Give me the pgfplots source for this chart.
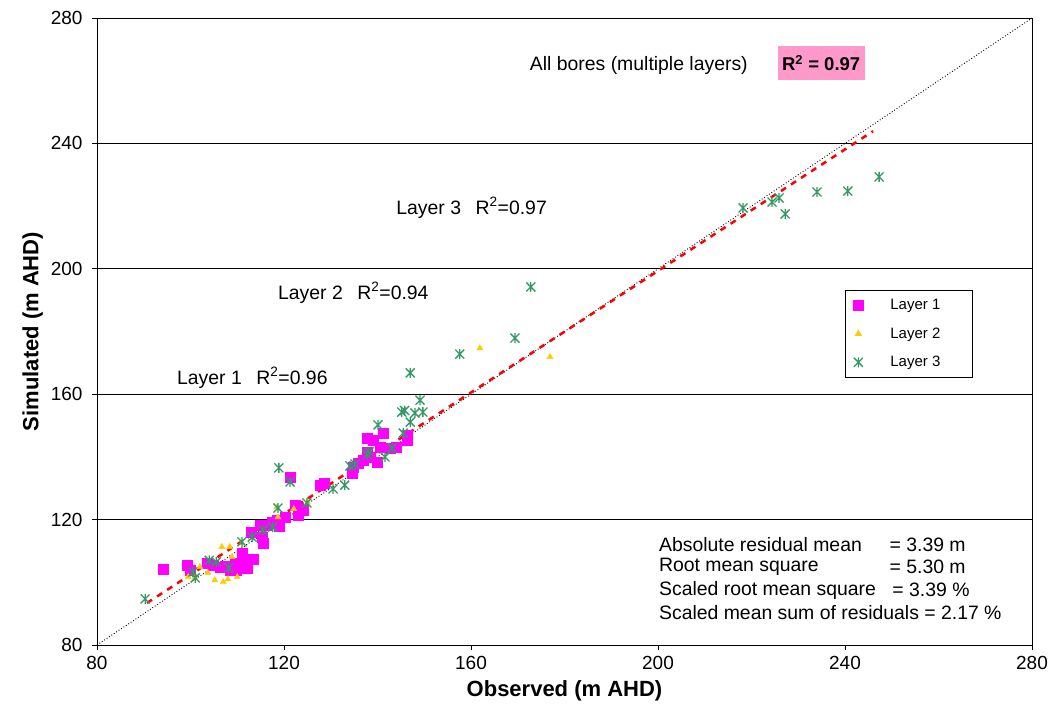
\documentclass[border=0pt]{standalone}
\usepackage{fontspec}
\setmainfont{Liberation Sans}
\usepackage{pgfplots}
\pgfplotsset{compat=1.18}
\definecolor{lay1}{HTML}{FF00FF}
\definecolor{lay2}{HTML}{FFCC00}
\definecolor{lay3}{HTML}{339966}
\definecolor{rbox}{HTML}{FF99CC}
\pgfdeclareplotmark{xstar}{%
  \pgfpathmoveto{\pgfqpoint{-\pgfplotmarksize}{-\pgfplotmarksize}}%
  \pgfpathlineto{\pgfqpoint{\pgfplotmarksize}{\pgfplotmarksize}}%
  \pgfpathmoveto{\pgfqpoint{-\pgfplotmarksize}{\pgfplotmarksize}}%
  \pgfpathlineto{\pgfqpoint{\pgfplotmarksize}{-\pgfplotmarksize}}%
  \pgfpathmoveto{\pgfqpoint{0pt}{1.1\pgfplotmarksize}}%
  \pgfpathlineto{\pgfqpoint{0pt}{-1.1\pgfplotmarksize}}%
  \pgfusepathqstroke}
\begin{document}
\begin{tikzpicture}
\useasboundingbox (-97pt,-79pt) rectangle (955pt,645pt);
\begin{axis}[
  at={(0,0)}, anchor=south west,
  scale only axis, width=935pt, height=627pt,
  xmin=80, xmax=280, ymin=80, ymax=280,
  xtick={80,120,...,280}, ytick={80,120,...,280},
  ymajorgrids, major grid style={black, line width=0.8pt},
  axis line style={line width=0.8pt},
  tick style={black, line width=0.8pt},
  tick align=outside, major tick length=5pt,
  xtick pos=bottom, ytick pos=left,
  /pgf/number format/assume math mode=true,
  ticklabel style={font=\fontsize{19}{22}\selectfont},
  xticklabel style={yshift=-3pt},
  yticklabel style={xshift=-6pt},
  xlabel={\bfseries Observed (m AHD)},
  ylabel={\bfseries Simulated (m AHD)},
  label style={font=\fontsize{22}{26}\selectfont\bfseries},
  xlabel style={yshift=-4pt},
  ylabel style={yshift=1pt},
  clip=false,
  legend style={at={(axis cs:240,193.2)}, anchor=north west, draw=black,
    line width=0.8pt, font=\fontsize{15}{18}\selectfont,
    inner xsep=8pt, inner ysep=7pt, row sep=12.5pt,
    legend cell align=left,
    /tikz/column 1/.style={column sep=25pt}},
]
\addplot[black, dotted, line width=0.9pt, forget plot] coordinates {(80,80) (280,280)};
\addplot[only marks, mark=square*, mark size=5pt, color=lay1, fill=lay1] coordinates {
(94.1,104.2) (99.3,105.5) (99.9,103.9) (103.5,106.2) (104.8,105.5) (106.3,104.9)
(108.4,103.9) (109.5,106.2) (111.0,109.3) (111.0,107.1) (112.1,104.6) (113.4,107.4)
(107.5,105.0) (109.8,104.0) (115.5,112.5) (115.3,114.4) (114.9,118.3) (116.4,118.3)
(117.4,119.2) (118.5,119.9) (120.2,120.8) (121.3,133.6) (123.0,121.5) (123.0,123.7)
(124.1,123.1) (122.4,124.7) (127.7,131.0) (128.5,131.5) (113.0,116.0) (119.0,118.0)
(137.8,146.0) (141.2,147.6) (139.0,145.4) (140.5,143.2) (142.7,142.8) (137.8,141.6)
(138.4,140.0) (136.9,139.0) (135.8,138.0) (134.8,136.8) (134.5,134.9) (146.3,145.4)
(146.3,147.0) (139.9,138.4) (144.0,143.0)
};
\addlegendentry{\makebox[72pt][l]{Layer 1}}
\addplot[only marks, mark=triangle*, mark size=3.5pt, color=lay2, fill=lay2] coordinates {
(161.9,174.7) (176.9,171.9) (106.7,111.3) (108.4,111.3) (102.0,104.9) (103.7,103.0)
(99.5,101.7) (105.2,100.7) (107.0,100.1) (108.0,101.0) (110.0,101.7) (108.9,108.1)
(111.0,112.5) (118.5,124.0) (118.7,120.8) (122.1,123.4) (101.0,101.7) (125.0,125.5)
};
\addlegendentry{\makebox[72pt][l]{Layer 2}}
\addplot[only marks, mark=xstar, mark size=4.5pt, color=lay3, line width=1.3pt] coordinates {
(90.3,94.7) (100.5,103.3) (101.0,101.4) (105.5,106.5) (108.2,104.6) (111.0,112.9)
(113.2,114.4) (115.5,116.7) (117.6,117.6) (118.7,123.7) (118.9,136.5) (121.3,132.0)
(124.9,125.3) (130.5,129.8) (133.0,131.0) (134.1,137.1) (135.2,137.7) (138.2,141.6)
(137.8,140.7) (141.6,140.0) (143.1,142.8) (145.5,147.6) (140.1,150.2) (145.2,154.3)
(145.8,154.8) (147.0,151.1) (148.0,154.0) (149.7,154.3) (149.1,158.1) (147.0,166.8)
(157.6,172.8) (169.4,177.9) (172.8,194.2) (218.2,219.4) (224.4,221.3) (225.9,222.6)
(227.2,217.5) (234.0,224.5) (240.6,224.8) (247.3,229.3) (104.0,107.0)
};
\addlegendentry{\makebox[72pt][l]{Layer 3}}
\addplot[red, line width=2.5pt, dash pattern=on 6pt off 6pt, forget plot] coordinates {(90.7,93.4) (246,243.9)};
\node[font=\fontsize{19.4}{23}\selectfont] at (axis cs:195.9,264.7) {All bores (multiple layers)};
\node[font=\fontsize{18.5}{22}\selectfont\bfseries, fill=rbox, minimum width=87pt, minimum height=34pt, inner sep=2pt] at (axis cs:234.9,265.6) {R\textsuperscript{2} = 0.97};
\node[font=\fontsize{19.4}{23}\selectfont, anchor=west, inner sep=0pt] at (axis cs:144.0,219.4) {Layer 3\hspace{0.75em}R\textsuperscript{2}=0.97};
\node[font=\fontsize{19.4}{23}\selectfont, anchor=west, inner sep=0pt] at (axis cs:118.7,192.3) {Layer 2\hspace{0.75em}R\textsuperscript{2}=0.94};
\node[font=\fontsize{19.4}{23}\selectfont, anchor=west, inner sep=0pt] at (axis cs:97.1,165.2) {Layer 1\hspace{0.75em}R\textsuperscript{2}=0.96};
\node[font=\fontsize{19.4}{23}\selectfont, anchor=west, inner sep=0pt] at (axis cs:200.2,111.9) {Absolute residual mean};
\node[font=\fontsize{19.4}{23}\selectfont, anchor=west, inner sep=0pt] at (axis cs:249.5,111.9) {= 3.39 m};
\node[font=\fontsize{19.4}{23}\selectfont, anchor=west, inner sep=0pt] at (axis cs:200.2,104.9) {Root mean square};
\node[font=\fontsize{19.4}{23}\selectfont, anchor=west, inner sep=0pt] at (axis cs:249.5,104.9) {= 5.30 m};
\node[font=\fontsize{19.4}{23}\selectfont, anchor=west, inner sep=0pt] at (axis cs:200.2,97.5) {Scaled root mean square};
\node[font=\fontsize{19.4}{23}\selectfont, anchor=west, inner sep=0pt] at (axis cs:250.1,97.5) {= 3.39 \%};
\node[font=\fontsize{19.4}{23}\selectfont, anchor=west, inner sep=0pt] at (axis cs:200.2,90.2) {Scaled mean sum of residuals = 2.17 \%};
\end{axis}
\end{tikzpicture}
\end{document}
